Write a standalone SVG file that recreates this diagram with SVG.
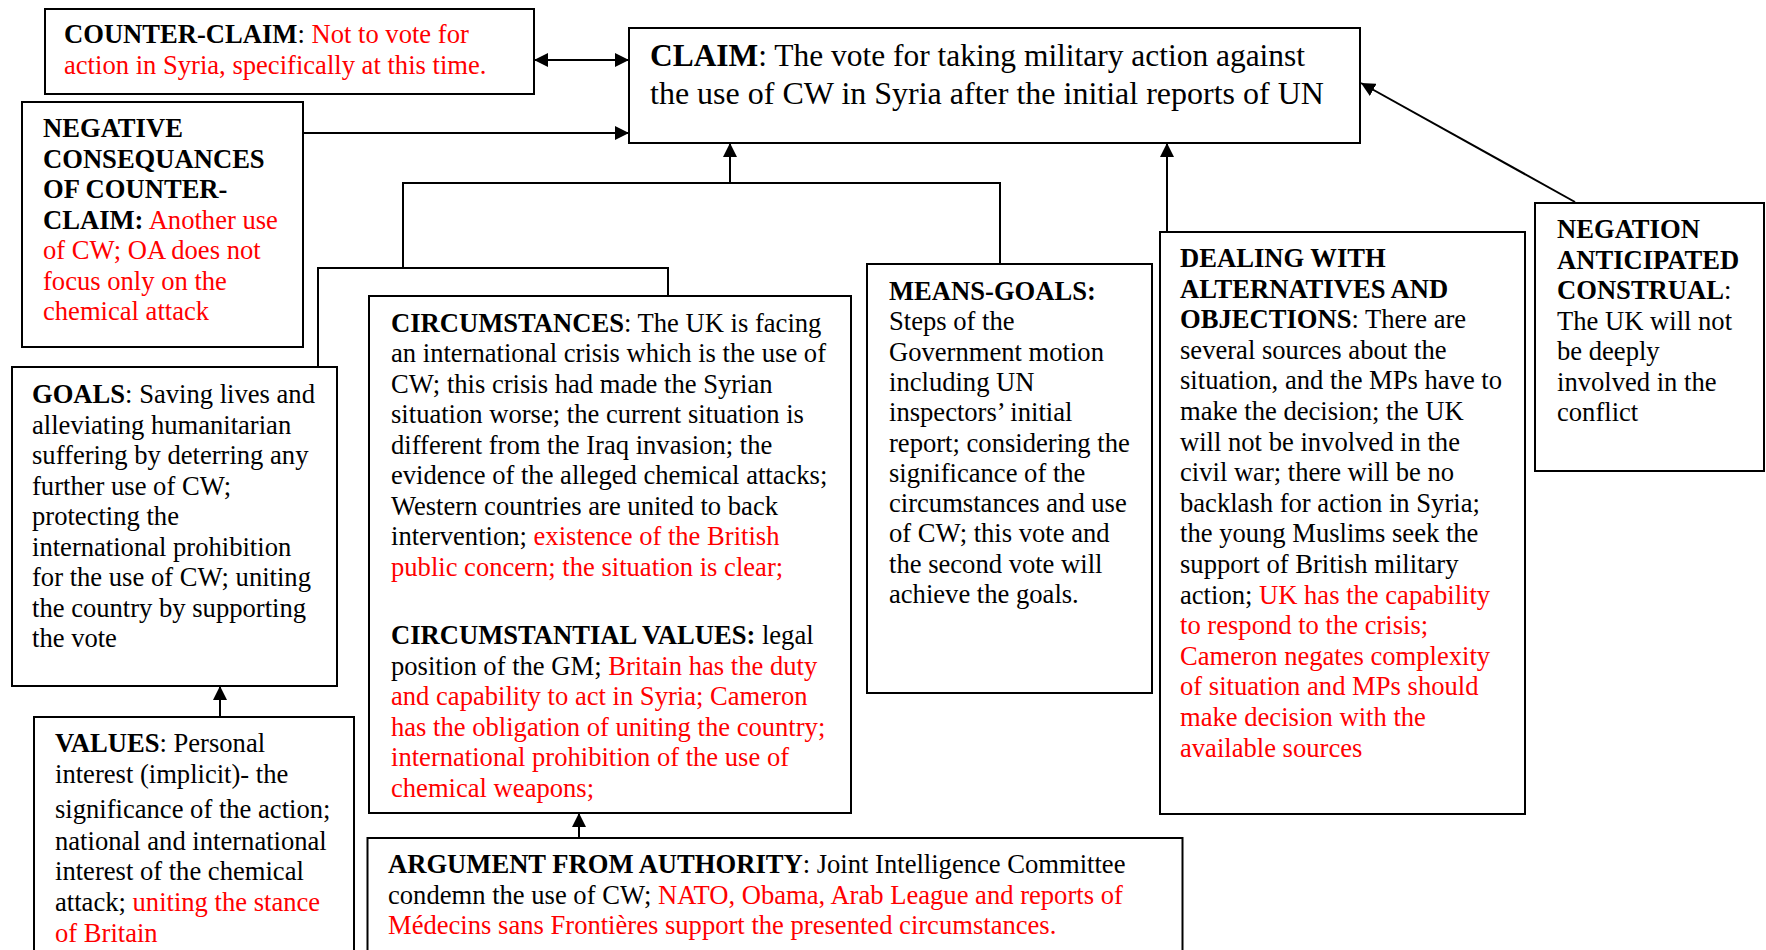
<svg xmlns="http://www.w3.org/2000/svg" width="1766" height="950" viewBox="0 0 1766 950">
<style>
.box{fill:#fff;stroke:#000;stroke-width:2}
.c{fill:none;stroke:#000;stroke-width:2}
text{font-family:"Liberation Serif","Times New Roman",serif;font-size:26.6px;fill:#000}
.h{font-weight:bold}
.r{fill:#f00}
.big{font-size:32px}
</style>
<defs>
<marker id="ah" markerWidth="14" markerHeight="14" refX="14" refY="7" orient="auto-start-reverse" markerUnits="userSpaceOnUse"><path d="M0,0L14,7L0,14z" fill="#000"/></marker>
</defs>
<rect width="1766" height="950" fill="#fff"/>
<g id="connectors">
<line class="c" x1="534" y1="60" x2="629" y2="60" marker-start="url(#ah)" marker-end="url(#ah)"/>
<line class="c" x1="303" y1="133" x2="629" y2="133" marker-end="url(#ah)"/>
<polyline class="c" points="318,367 318,268 668,268 668,296"/>
<polyline class="c" points="403,268 403,183 1000,183 1000,264"/>
<line class="c" x1="730" y1="183" x2="730" y2="143" marker-end="url(#ah)"/>
<line class="c" x1="1167" y1="232" x2="1167" y2="143" marker-end="url(#ah)"/>
<line class="c" x1="1575" y1="202" x2="1361" y2="83" marker-end="url(#ah)"/>
<line class="c" x1="220" y1="717" x2="220" y2="686" marker-end="url(#ah)"/>
<line class="c" x1="579" y1="838" x2="579" y2="813" marker-end="url(#ah)"/>
</g>
<g id="counter-claim">
<rect class="box" x="45" y="9" width="489" height="85"/>
<text x="64" y="43"><tspan class="h">COUNTER-CLAIM</tspan>: <tspan class="r">Not to vote for</tspan></text>
<text x="64" y="74" class="r">action in Syria, specifically at this time.</text>
</g>
<g id="claim">
<rect class="box" x="629" y="28" width="731" height="115"/>
<text class="big" x="650" y="66" textLength="655" lengthAdjust="spacingAndGlyphs"><tspan class="h">CLAIM</tspan>: The vote for taking military action against</text>
<text class="big" x="650" y="104">the use of CW in Syria after the initial reports of UN</text>
</g>
<g id="negative-consequences">
<rect class="box" x="22" y="102" width="281" height="245"/>
<text x="43" y="137" class="h">NEGATIVE</text>
<text x="43" y="167.5" class="h">CONSEQUANCES</text>
<text x="43" y="198" class="h">OF COUNTER-</text>
<text x="43" y="228.5"><tspan class="h">CLAIM:</tspan><tspan class="r"> Another use</tspan></text>
<text x="43" y="259" class="r">of CW; OA does not</text>
<text x="43" y="289.5" class="r">focus only on the</text>
<text x="43" y="320" class="r">chemical attack</text>
</g>
<g id="goals">
<rect class="box" x="12" y="367" width="325" height="319"/>
<text x="32" y="403"><tspan class="h">GOALS</tspan>: Saving lives and</text>
<text x="32" y="433.5">alleviating humanitarian</text>
<text x="32" y="464">suffering by deterring any</text>
<text x="32" y="494.5">further use of CW;</text>
<text x="32" y="525">protecting the</text>
<text x="32" y="555.5">international prohibition</text>
<text x="32" y="586">for the use of CW; uniting</text>
<text x="32" y="616.5">the country by supporting</text>
<text x="32" y="647">the vote</text>
</g>
<g id="values">
<rect class="box" x="34" y="717" width="320" height="260"/>
<text x="55" y="752"><tspan class="h">VALUES</tspan>: Personal</text>
<text x="55" y="783">interest (implicit)- the</text>
<text x="55" y="818">significance of the action;</text>
<text x="55" y="850">national and international</text>
<text x="55" y="880">interest of the chemical</text>
<text x="55" y="911">attack; <tspan class="r">uniting the stance</tspan></text>
<text x="55" y="942" class="r">of Britain</text>
</g>
<g id="circumstances">
<rect class="box" x="369" y="296" width="482" height="517"/>
<text x="391" y="332"><tspan class="h">CIRCUMSTANCES</tspan>: The UK is facing</text>
<text x="391" y="362.4">an international crisis which is the use of</text>
<text x="391" y="392.9">CW; this crisis had made the Syrian</text>
<text x="391" y="423.3">situation worse; the current situation is</text>
<text x="391" y="453.8">different from the Iraq invasion; the</text>
<text x="391" y="484.2">evidence of the alleged chemical attacks;</text>
<text x="391" y="514.7">Western countries are united to back</text>
<text x="391" y="545.1">intervention; <tspan class="r">existence of the British</tspan></text>
<text x="391" y="575.6" class="r">public concern; the situation is clear;</text>
<text x="391" y="644"><tspan class="h">CIRCUMSTANTIAL VALUES:</tspan> legal</text>
<text x="391" y="674.5">position of the GM; <tspan class="r">Britain has the duty</tspan></text>
<text x="391" y="705" class="r">and capability to act in Syria; Cameron</text>
<text x="391" y="735.5" class="r">has the obligation of uniting the country;</text>
<text x="391" y="766" class="r">international prohibition of the use of</text>
<text x="391" y="796.5" class="r">chemical weapons;</text>
</g>
<g id="means-goals">
<rect class="box" x="867" y="264" width="285" height="429"/>
<text x="889" y="300" class="h">MEANS-GOALS:</text>
<text x="889" y="330.3">Steps of the</text>
<text x="889" y="360.6">Government motion</text>
<text x="889" y="390.9">including UN</text>
<text x="889" y="421.2">inspectors’ initial</text>
<text x="889" y="451.5">report; considering the</text>
<text x="889" y="481.8">significance of the</text>
<text x="889" y="512.1">circumstances and use</text>
<text x="889" y="542.4">of CW; this vote and</text>
<text x="889" y="572.7">the second vote will</text>
<text x="889" y="603">achieve the goals.</text>
</g>
<g id="dealing-with-alternatives">
<rect class="box" x="1160" y="232" width="365" height="582"/>
<text x="1180" y="267" class="h">DEALING WITH</text>
<text x="1180" y="297.6" class="h">ALTERNATIVES AND</text>
<text x="1180" y="328.2"><tspan class="h">OBJECTIONS</tspan>: There are</text>
<text x="1180" y="358.8">several sources about the</text>
<text x="1180" y="389.4">situation, and the MPs have to</text>
<text x="1180" y="420">make the decision; the UK</text>
<text x="1180" y="450.6">will not be involved in the</text>
<text x="1180" y="481.2">civil war; there will be no</text>
<text x="1180" y="511.8">backlash for action in Syria;</text>
<text x="1180" y="542.4">the young Muslims seek the</text>
<text x="1180" y="573">support of British military</text>
<text x="1180" y="603.6">action; <tspan class="r">UK has the capability</tspan></text>
<text x="1180" y="634.2" class="r">to respond to the crisis;</text>
<text x="1180" y="664.8" class="r">Cameron negates complexity</text>
<text x="1180" y="695.4" class="r">of situation and MPs should</text>
<text x="1180" y="726" class="r">make decision with the</text>
<text x="1180" y="756.6" class="r">available sources</text>
</g>
<g id="negation-anticipated-construal">
<rect class="box" x="1535" y="203" width="229" height="268"/>
<text x="1557" y="238" class="h">NEGATION</text>
<text x="1557" y="268.5" class="h">ANTICIPATED</text>
<text x="1557" y="299"><tspan class="h">CONSTRUAL</tspan>:</text>
<text x="1557" y="329.5">The UK will not</text>
<text x="1557" y="360">be deeply</text>
<text x="1557" y="390.5">involved in the</text>
<text x="1557" y="421">conflict</text>
</g>
<g id="argument-from-authority">
<rect class="box" x="367.5" y="838" width="815" height="140"/>
<text x="388" y="873"><tspan class="h">ARGUMENT FROM AUTHORITY</tspan>: Joint Intelligence Committee</text>
<text x="388" y="904">condemn the use of CW; <tspan class="r">NATO, Obama, Arab League and reports of</tspan></text>
<text x="388" y="934" class="r">Médecins sans Frontières support the presented circumstances.</text>
</g>
</svg>
